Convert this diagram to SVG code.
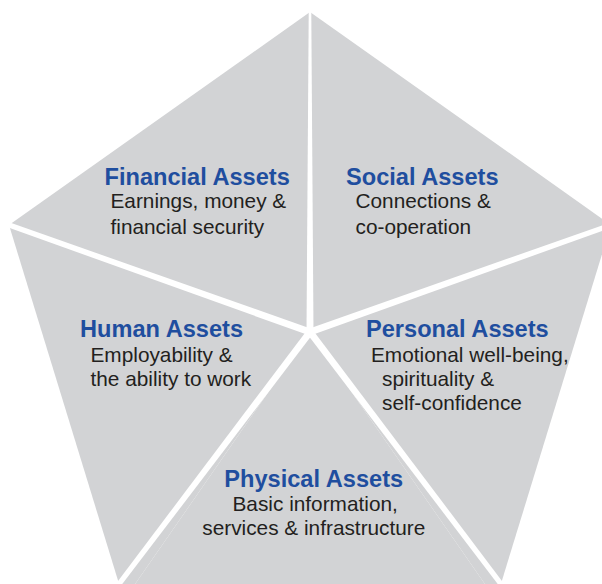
<svg xmlns="http://www.w3.org/2000/svg" width="602" height="584" viewBox="0 0 602 584">
<style>
.sector{fill:#d2d3d5;stroke:none}
.gap{fill:#ffffff;stroke:none}
.title{font-family:"Liberation Sans",Arial,sans-serif;font-weight:bold;font-size:23.6px;fill:#1f4e9f}
.body{font-family:"Liberation Sans",Arial,sans-serif;font-size:20.8px;fill:#231f20}
</style>
<rect width="602" height="584" fill="#ffffff"/>
<g id="financial">
<polygon class="sector" points="310,332 310,12 9,225"/>
<text class="title" x="104.5" y="185.3">Financial Assets</text>
<text class="body" x="110.5" y="208.4">Earnings, money &amp;</text>
<text class="body" x="110.5" y="234">financial security</text>
</g>
<g id="social">
<polygon class="sector" points="310,332 310,12 611,225"/>
<text class="title" x="346" y="185.3">Social Assets</text>
<text class="body" x="355.5" y="208.4">Connections &amp;</text>
<text class="body" x="355.5" y="234">co-operation</text>
</g>
<g id="human">
<polygon class="sector" points="310,332 9,225 124,600"/>
<text class="title" x="80" y="336.7">Human Assets</text>
<text class="body" x="90.5" y="361.7">Employability &amp;</text>
<text class="body" x="90.5" y="386">the ability to work</text>
</g>
<g id="personal">
<polygon class="sector" points="310,332 611,225 496,600"/>
<text class="title" x="366" y="336.7">Personal Assets</text>
<text class="body" x="371" y="361.7">Emotional well-being,</text>
<text class="body" x="382" y="386">spirituality &amp;</text>
<text class="body" x="382" y="410">self-confidence</text>
</g>
<g id="physical">
<polygon class="sector" points="310,332 496,600 124,600"/>
<text class="title" x="224.3" y="486.5">Physical Assets</text>
<text class="body" x="232.5" y="510.5">Basic information,</text>
<text class="body" x="202.3" y="535">services &amp; infrastructure</text>
</g>
<g id="separators">
<polygon class="gap" points="306.5,332 308.8,0 311.2,0 313.5,332"/>
<polygon class="gap" points="311.17,328.70 -4.8,217.4 -6.4,222.2 308.83,335.30"/>
<polygon class="gap" points="311.17,335.30 626.4,222.2 624.8,217.4 308.83,328.70"/>
<polygon class="gap" points="312.79,334.11 103.6,608.5 99.6,605.5 307.21,329.89"/>
<polygon class="gap" points="312.79,329.89 520.4,605.5 516.4,608.5 307.21,334.11"/>
<circle class="gap" cx="310" cy="332" r="3.5"/>
</g>
</svg>
